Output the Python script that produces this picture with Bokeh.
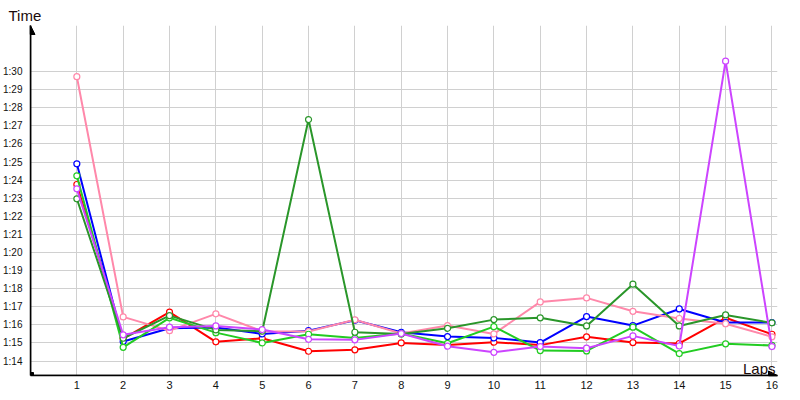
from bokeh.plotting import figure
from bokeh.models import Range1d, FixedTicker, Label, Arrow, NormalHead
from bokeh.embed import file_html
from bokeh.resources import INLINE

# ---- data -------------------------------------------------------------
laps = [1, 2, 3, 4, 5, 6, 7, 8, 9, 10, 11, 12, 13, 14, 15, 16]
lap_labels = ["1", "2", "3", "4", "5", "6", "7", "8", "9", "10",
              "11", "12", "13", "14", "15", "16"]
time_ticks = [74, 75, 76, 77, 78, 79, 80, 81, 82, 83, 84, 85, 86, 87, 88, 89, 90]
time_labels = ["1:14", "1:15", "1:16", "1:17", "1:18", "1:19", "1:20", "1:21",
               "1:22", "1:23", "1:24", "1:25", "1:26", "1:27", "1:28", "1:29", "1:30"]

# lap times in seconds
red = [83.76, 75.24, 76.70, 75.06, 75.26, 74.54, 74.62, 75.00,
       74.89, 75.04, 74.88, 75.34, 75.02, 74.97, 76.39, 75.48]
blue = [84.90, 75.08, 75.81, 75.85, 75.50, 75.68, 76.25, 75.59,
        75.35, 75.28, 75.02, 76.46, 75.96, 76.88, 76.13, 76.13]
pink = [89.72, 76.44, 75.68, 76.61, 75.65, 75.63, 76.28, 75.52,
        75.96, 75.50, 77.27, 77.49, 76.75, 76.35, 76.06, 75.34]
lime = [84.24, 74.76, 76.39, 75.57, 75.00, 75.48, 75.27, 75.52,
        74.98, 75.90, 74.58, 74.56, 75.87, 74.41, 74.95, 74.86]
dark_green = [82.97, 75.26, 76.51, 75.72, 75.65, 87.35, 75.59, 75.50,
              75.81, 76.29, 76.39, 75.94, 78.25, 75.94, 76.55, 76.11]
violet = [83.52, 75.45, 75.87, 75.94, 75.74, 75.20, 75.17, 75.52,
          74.82, 74.48, 74.80, 74.71, 75.39, 74.83, 90.58, 74.80]

series = [red, blue, pink, lime, dark_green, violet]
colors = ["#ff0000", "#0000ff", "#ff88aa", "#22cc22", "#2a962a", "#cc44ff"]

X_MIN, X_MAX = 0, 16.12
Y_MIN, Y_MAX = 73.2, 92.55

# ---- figure -----------------------------------------------------------
p = figure(frame_width=747, frame_height=350, title="Time",
           x_range=Range1d(X_MIN, X_MAX), y_range=Range1d(Y_MIN, Y_MAX),
           output_backend="svg", toolbar_location=None,
           min_border_left=30, min_border_top=25, min_border_right=15,
           min_border_bottom=17, background_fill_color="white",
           border_fill_color="white")
p.outline_line_color = None

p.title.align = "left"
p.title.offset = -22
p.title.standoff = 3
p.title.text_font = "Liberation Sans"
p.title.text_font_size = "15px"
p.title.text_font_style = "normal"
p.title.text_color = "#1a0a0a"

for ax in (p.xaxis[0], p.yaxis[0]):
    ax.axis_line_color = "black"
    ax.axis_line_width = 1.5
    ax.major_tick_line_color = None
    ax.minor_tick_line_color = None
    ax.major_tick_out = 0
    ax.major_tick_in = 0
    ax.major_label_text_color = "#111111"
    ax.major_label_text_font = "Liberation Sans"

p.xaxis.ticker = FixedTicker(ticks=laps)
p.xaxis.major_label_overrides = dict(zip(laps, lap_labels))
p.xaxis.major_label_text_font_size = "11px"
p.xaxis.major_label_standoff = 5

p.yaxis.ticker = FixedTicker(ticks=time_ticks)
p.yaxis.major_label_overrides = dict(zip(time_ticks, time_labels))
p.yaxis.major_label_text_font_size = "10px"
p.yaxis.major_label_standoff = 8
p.yaxis.major_label_text_baseline = "alphabetic"

p.xgrid.ticker = FixedTicker(ticks=laps)
p.ygrid.ticker = FixedTicker(ticks=time_ticks)
p.xgrid.grid_line_color = "#d0d0d0"
p.ygrid.grid_line_color = "#d0d0d0"

for ys, c in zip(series, colors):
    p.line(laps, ys, line_color=c, line_width=2)
    p.scatter(laps, ys, marker="circle", size=6, line_color=c,
              line_width=1.2, fill_color="white")

# axis arrows
p.add_layout(Arrow(end=NormalHead(size=9, fill_color="black", line_color="black"),
                   x_start=X_MIN, y_start=Y_MIN, x_end=X_MIN, y_end=Y_MAX,
                   line_color="black", line_width=1.5))
p.add_layout(Arrow(end=NormalHead(size=9, fill_color="black", line_color="black"),
                   x_start=X_MIN, y_start=Y_MIN, x_end=X_MAX, y_end=Y_MIN,
                   line_color="black", line_width=1.5))
p.scatter([X_MIN], [Y_MIN], marker="square", size=6, color="black")

p.add_layout(Label(x=X_MAX, y=Y_MIN, x_offset=-2, y_offset=7, text="Laps",
                   text_font="Liberation Sans", text_font_size="15px",
                   text_color="#1a0a0a", text_align="right",
                   text_baseline="alphabetic"))

open("out.html", "w").write(file_html(p, INLINE))
